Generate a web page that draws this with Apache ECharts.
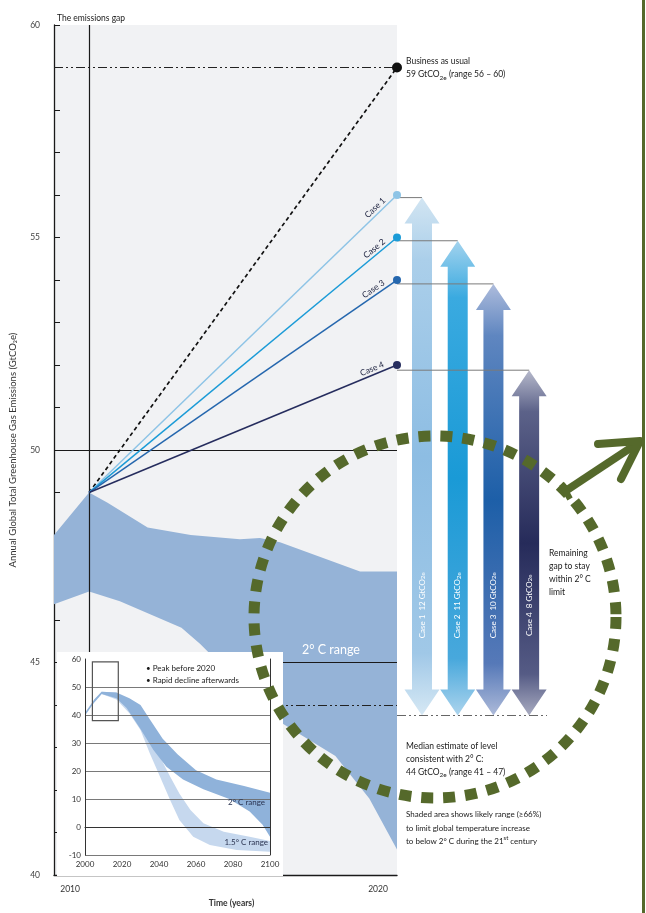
<!DOCTYPE html>
<html>
<head>
<meta charset="utf-8">
<script src="https://cdn.jsdelivr.net/npm/echarts@6/dist/echarts.min.js"></script>
<style>
  html, body { margin: 0; padding: 0; background: #ffffff; }
  #chart { width: 646px; height: 913px; }
</style>
</head>
<body>
<div id="chart"></div>
<script>
// ---- Emission pathways, 2010 -> 2020 (GtCO2e) ----
const startYear = 2010;
const endYear = 2020;
const startLevel = 49;
const bauLevel = 59;
const bauRange = [56, 60];
const caseNames = ['Case 1', 'Case 2', 'Case 3', 'Case 4'];
const caseLevels = [56, 55, 54, 52];
const medianLevel = 44;
const medianRange = [41, 47];

// 2 °C likely range in the main panel, [year, GtCO2e]
const bandUpper = [[2008.86, 48.0], [2010, 49.0], [2010.6, 48.76], [2011.9, 48.18], [2013.3, 48.0],
  [2014.9, 47.9], [2015.55, 47.93], [2016.2, 47.83], [2018.8, 47.14], [2020, 47.14]];
const bandLower = [[2008.86, 46.37], [2010, 46.67], [2011.0, 46.44], [2012.0, 46.13], [2013.0, 45.82],
  [2013.6, 45.44], [2014.9, 44.5], [2016.2, 43.6], [2018.0, 42.8], [2019.1, 41.8], [2020, 40.6]];

// Long-term pathways 2000 -> 2100 (inset)
const inset2CUpper = [[2000, 40.8], [2005, 45.5], [2009, 48.3], [2017, 48], [2024, 46], [2030, 43.6],
  [2035, 38.5], [2042, 31.5], [2050, 26], [2060, 20.3], [2071, 17], [2086, 14.6], [2100, 12.2]];
const inset2CLower = [[2000, 39.8], [2005, 44.5], [2009, 47.5], [2017, 46], [2022.5, 42.5], [2030, 35],
  [2037, 27.5], [2044, 21.5], [2053, 17], [2064, 13.5], [2078, 10], [2089, 5.5], [2096, 0.8], [2100, -3.5]];
const inset15Upper = [[2005, 45.5], [2009, 48.3], [2017, 48], [2022, 44], [2026, 40.6], [2033, 33.5],
  [2040.5, 25.1], [2046, 18], [2051, 12], [2057, 6.1], [2064, 1.3], [2075, -1.7], [2089, -3.5], [2100, -5]];
const inset15Lower = [[2005, 44.5], [2009, 47.5], [2017, 45.5], [2024, 40.6], [2030, 34.6], [2035, 26.3],
  [2040.5, 18], [2046, 9.6], [2051, 2.5], [2058.5, -3.5], [2067.5, -6.4], [2082, -8.2], [2100, -8.8]];
const insetWindow = [[2004, 59], [2018, 38]];
const insetXTicks = [2000, 2020, 2040, 2060, 2080, 2100];
const mainXTicks = [2010, 2020];

// ---- styling ----
const FONT = 'Lato, "Open Sans", sans-serif';
const INK = '#1a1a1a';
const caseColors = ['#8ec4e6', '#1b9bd7', '#2567ae', '#262d5e'];
const arrowStops = [
  ['#d2e5f2', '#abcfea', '#8dbde3', '#a0c8e7', '#d6e8f4'],
  ['#a3d3ee', '#3aaae0', '#1a9ad6', '#48a8dc', '#acd4ed'],
  ['#aebcdc', '#5f86c0', '#1d5fa8', '#5679b8', '#adbad9'],
  ['#b6b9cb', '#5c6289', '#262b5a', '#555b85', '#a8abc0']
];
const GREEN = '#55692b';
const dashDot = [9, 3, 2, 3, 2, 3];
const subRich = {
  sub: { fontSize: 6.5, lineHeight: 8, verticalAlign: 'bottom', fontFamily: FONT, fill: INK },
  sup: { fontSize: 6, lineHeight: 8, verticalAlign: 'top', fontFamily: FONT, fill: INK }
};
const yearLabel = v => String(Math.round(v));

function bandSeries(axisIdx, upper, lower, color, z) {
  return {
    type: 'custom', xAxisIndex: axisIdx, yAxisIndex: axisIdx, z: z, silent: true,
    data: [0],
    renderItem(params, api) {
      const pts = upper.map(p => api.coord(p))
        .concat(lower.slice().reverse().map(p => api.coord(p)));
      return { type: 'polygon', shape: { points: pts }, style: { fill: color } };
    }
  };
}

function pathSeries(level, color, dashed, size) {
  return {
    type: 'line', xAxisIndex: 0, yAxisIndex: 0, z: 5, silent: true,
    data: [
      { value: [startYear, startLevel], symbol: 'none' },
      { value: [endYear, level], symbol: 'circle', symbolSize: size }
    ],
    lineStyle: { color: color, width: dashed ? 1.7 : 1.5, type: dashed ? [4, 3] : 'solid' },
    itemStyle: { color: color },
    animation: false
  };
}

const chart = echarts.init(document.getElementById('chart'), null, { renderer: 'canvas' });

const option = {
  animation: false,
  backgroundColor: '#ffffff',
  title: {
    text: 'The emissions gap', left: 52, top: 9,
    textStyle: { fontSize: 8.5, fontWeight: 'normal', color: INK, fontFamily: FONT }
  },
  grid: [
    { left: 54, top: 25, width: 343, bottom: 25, show: true, backgroundColor: '#f1f2f4', borderWidth: 0 },
    { left: 397, top: 25, width: 150, bottom: 25 },
    { left: 85, top: 659, width: 185, height: 196 }
  ],
  xAxis: [
    {
      gridIndex: 0, type: 'value', min: 2008.86, max: endYear,
      axisLine: { show: true, lineStyle: { color: INK, width: 1.4 } },
      axisTick: { show: false }, splitLine: { show: false },
      axisLabel: {
        customValues: mainXTicks, formatter: yearLabel, fontSize: 8.5, color: '#333', margin: 10,
        fontFamily: FONT, padding: [0, 38, 0, 0]
      },
      name: 'Time (years)', nameLocation: 'middle', nameGap: 14,
      nameTextStyle: { fontSize: 8.5, fontWeight: 'bold', color: '#333', fontFamily: FONT, padding: [0, 0, 0, 12] }
    },
    { gridIndex: 1, type: 'value', min: -0.7, max: 3.5, show: false },
    {
      gridIndex: 2, type: 'value', min: 2000, max: 2100, interval: 20, z: 58,
      axisLine: { show: true, lineStyle: { color: '#333', width: 1 } },
      axisTick: { show: false }, splitLine: { show: false },
      axisLabel: { customValues: insetXTicks, formatter: yearLabel, fontSize: 8, color: '#333', margin: 5, fontFamily: FONT }
    }
  ],
  yAxis: [
    {
      gridIndex: 0, type: 'value', min: 40, max: 60, interval: 5,
      axisLine: { show: true, lineStyle: { color: INK, width: 1.3 } },
      axisTick: { show: true, inside: true, length: 6, lineStyle: { color: INK, width: 1 } },
      minorTick: { show: true, splitNumber: 5, length: 6, lineStyle: { color: INK, width: 1 } },
      splitLine: { show: false },
      axisLabel: { fontSize: 8.5, color: '#444', margin: 14, fontFamily: FONT },
      name: 'Annual Global Total Greenhouse Gas Emissions (GtCO₂e)',
      nameLocation: 'middle', nameGap: 36, nameRotate: 90,
      nameTextStyle: { fontSize: 9.5, color: '#333', fontFamily: FONT }
    },
    { gridIndex: 1, type: 'value', min: 40, max: 60, show: false },
    {
      gridIndex: 2, type: 'value', min: -10, max: 60, interval: 10, z: 58,
      axisLine: { show: true, lineStyle: { color: '#333', width: 1 } },
      axisTick: { show: false },
      splitLine: { show: true, showMaxLine: false, lineStyle: { color: '#6a6a6a', width: 0.9 } },
      axisLabel: { fontSize: 8, color: '#333', margin: 4, fontFamily: FONT }
    },
    {
      gridIndex: 2, type: 'value', min: -10, max: 60, position: 'right', z: 58,
      axisLine: { show: true, lineStyle: { color: '#333', width: 1 } },
      axisTick: { show: false }, axisLabel: { show: false }, splitLine: { show: false }
    }
  ],
  series: [
    // 2 °C likely range
    bandSeries(0, bandUpper, bandLower, '#95b3d7', 2),
    // business as usual, with reference lines of the main panel
    Object.assign(pathSeries(bauLevel, '#111111', true, 10), {
      markLine: {
        silent: true, symbol: 'none', label: { show: false }, animation: false,
        data: [
          { yAxis: bauLevel, lineStyle: { color: '#222', width: 1.2, type: dashDot } },
          { yAxis: medianLevel, lineStyle: { color: '#222', width: 1.1, type: dashDot } },
          { yAxis: 50, lineStyle: { color: '#1a1a1a', width: 1, type: 'solid' } },
          { yAxis: 45, lineStyle: { color: '#1a1a1a', width: 1, type: 'solid' } },
          { xAxis: startYear, lineStyle: { color: '#1a1a1a', width: 1.2, type: 'solid' } }
        ]
      }
    }),
    ...caseLevels.map((v, i) => pathSeries(v, caseColors[i], false, 8)),
    // case names written along each pathway
    {
      type: 'custom', xAxisIndex: 0, yAxisIndex: 0, z: 6, silent: true,
      data: caseLevels.map((v, i) => [i, v]),
      renderItem(params, api) {
        const i = api.value(0), v = api.value(1);
        const p0 = api.coord([startYear, startLevel]);
        const p1 = api.coord([endYear, v]);
        const dx = p1[0] - p0[0], dy = p1[1] - p0[1];
        const len = Math.sqrt(dx * dx + dy * dy);
        const ux = dx / len, uy = dy / len;
        const gap = 12;
        return {
          type: 'text',
          x: p1[0] - ux * gap + uy * 1.5,
          y: p1[1] - uy * gap - ux * 1.5,
          rotation: Math.atan2(-dy, dx),
          style: {
            text: caseNames[i], align: 'right', verticalAlign: 'bottom',
            fontSize: 8.5, fill: '#1e2340', fontFamily: FONT
          }
        };
      }
    },
    // remaining gap arrows
    {
      type: 'custom', xAxisIndex: 1, yAxisIndex: 1, z: 4, silent: true,
      data: caseLevels.map((v, i) => [i, v, medianLevel]),
      renderItem(params, api) {
        const i = api.value(0), top = api.value(1), bot = api.value(2);
        const pt = api.coord([i, top]);
        const pb = api.coord([i, bot]);
        const cx = pt[0], hw = 17.5, sw = 10, hh = 26;
        const yt = pt[1], yb = pb[1];
        const pts = [[cx, yt], [cx + hw, yt + hh], [cx + sw, yt + hh], [cx + sw, yb - hh], [cx + hw, yb - hh],
          [cx, yb], [cx - hw, yb - hh], [cx - sw, yb - hh], [cx - sw, yt + hh], [cx - hw, yt + hh]];
        const s = arrowStops[i];
        const grad = new echarts.graphic.LinearGradient(0, 0, 0, 1, [
          { offset: 0, color: s[0] }, { offset: 0.12, color: s[1] }, { offset: 0.5, color: s[2] },
          { offset: 0.88, color: s[3] }, { offset: 1, color: s[4] }
        ]);
        const labelY = api.coord([i, 46.55])[1];
        return {
          type: 'group',
          children: [
            { type: 'line', shape: { x1: params.coordSys.x, y1: yt, x2: cx, y2: yt },
              style: { stroke: '#7a7a7a', lineWidth: 1 } },
            { type: 'polygon', shape: { points: pts }, style: { fill: grad } },
            { type: 'text', x: cx, y: labelY, rotation: Math.PI / 2,
              style: {
                text: caseNames[i] + '  ' + (top - bot) + ' GtCO{s|2e}',
                align: 'center', verticalAlign: 'middle', fontSize: 8, fill: '#ffffff', fontFamily: FONT,
                rich: { s: { fontSize: 6, lineHeight: 8, verticalAlign: 'bottom', fill: '#ffffff', fontFamily: FONT } }
              } }
          ]
        };
      },
      markLine: {
        silent: true, symbol: 'none', label: { show: false }, animation: false,
        data: [{ yAxis: medianLevel, lineStyle: { color: '#555', width: 0.9, type: dashDot } }]
      }
    },
    // inset: long-term ranges
    bandSeries(2, inset15Upper, inset15Lower, '#c6d8ee', 55),
    bandSeries(2, inset2CUpper, inset2CLower, '#8fb2da', 56),
    {
      type: 'custom', xAxisIndex: 2, yAxisIndex: 2, z: 59, silent: true,
      data: [0],
      renderItem(params, api) {
        const a = api.coord(insetWindow[0]);
        const b = api.coord(insetWindow[1]);
        return {
          type: 'rect',
          shape: { x: a[0], y: a[1], width: b[0] - a[0], height: b[1] - a[1] },
          style: { fill: 'none', stroke: '#555', lineWidth: 1.2 }
        };
      }
    }
  ],
  graphic: [
    // inset panel
    { type: 'rect', z: 50, silent: true, shape: { x: 57, y: 652, width: 226, height: 224 },
      style: { fill: '#ffffff' } },
    { type: 'text', z: 60, x: 146, y: 663, silent: true,
      style: { text: '• Peak before 2020\n• Rapid decline afterwards', fontSize: 8, lineHeight: 11.5,
        fill: INK, fontFamily: FONT } },
    { type: 'text', z: 60, x: 265, y: 802, silent: true,
      style: { text: '2° C range', align: 'right', verticalAlign: 'middle', fontSize: 8, fill: '#2a3350', fontFamily: FONT } },
    { type: 'text', z: 60, x: 268, y: 842, silent: true,
      style: { text: '1.5° C range', align: 'right', verticalAlign: 'middle', fontSize: 8, fill: '#2a3350', fontFamily: FONT } },
    // band caption in the main panel
    { type: 'text', z: 10, x: 331, y: 650, silent: true,
      style: { text: '2° C range', align: 'center', verticalAlign: 'middle', fontSize: 12.5, fill: '#ffffff', fontFamily: FONT } },
    // annotations
    { type: 'text', z: 10, x: 406, y: 55, silent: true,
      style: { text: 'Business as usual\n' + bauLevel + ' GtCO{sub|2e} (range ' + bauRange[0] + ' – ' + bauRange[1] + ')',
        fontSize: 8.5, lineHeight: 13, fill: INK, fontFamily: FONT, rich: subRich } },
    { type: 'text', z: 10, x: 406, y: 740, silent: true,
      style: { text: 'Median estimate of level\nconsistent with 2° C:\n' + medianLevel + ' GtCO{sub|2e} (range ' + medianRange[0] + ' – ' + medianRange[1] + ')',
        fontSize: 8.5, lineHeight: 12.8, fill: INK, fontFamily: FONT, rich: subRich } },
    { type: 'text', z: 10, x: 406, y: 808, silent: true,
      style: { text: 'Shaded area shows likely range (≥66%)\nto limit global temperature increase\nto below 2° C during the 21{sup|st} century',
        fontSize: 8, lineHeight: 13.5, fill: INK, fontFamily: FONT, rich: subRich } },
    { type: 'text', z: 10, x: 549, y: 547, silent: true,
      style: { text: 'Remaining\ngap to stay\nwithin 2° C\nlimit', fontSize: 8.5, lineHeight: 13, fill: INK, fontFamily: FONT } },
    // green highlight
    { type: 'circle', z: 100, silent: true, shape: { cx: 435, cy: 617, r: 181 },
      style: { fill: 'none', stroke: GREEN, lineWidth: 11, lineDash: [12, 10] } },
    { type: 'line', z: 100, silent: true, shape: { x1: 567, y1: 490, x2: 638, y2: 443 },
      style: { stroke: GREEN, lineWidth: 8, lineCap: 'butt' } },
    { type: 'line', z: 100, silent: true, shape: { x1: 562, y1: 484, x2: 570, y2: 499 },
      style: { stroke: GREEN, lineWidth: 6 } },
    { type: 'polyline', z: 100, silent: true, shape: { points: [[598, 444], [640, 441], [621, 479]] },
      style: { fill: 'none', stroke: GREEN, lineWidth: 8, lineCap: 'round', lineJoin: 'round' } },
    { type: 'line', z: 100, silent: true, shape: { x1: 643.5, y1: 0, x2: 643.5, y2: 913 },
      style: { stroke: GREEN, lineWidth: 3 } }
  ]
};

chart.setOption(option);
</script>
</body>
</html>
